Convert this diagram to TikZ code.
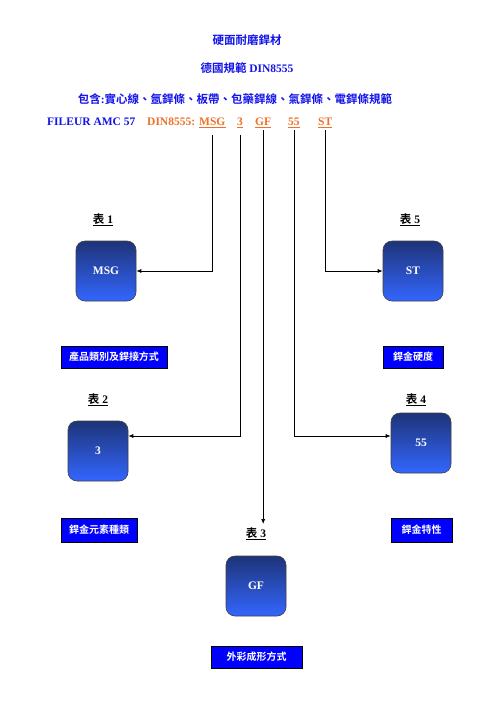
\documentclass[tikz,border=0pt]{standalone}
\usepackage{fontspec}
\setmainfont{Liberation Serif}
\newfontfamily\cjk{Noto Sans CJK TC}[BoldFont={Noto Sans CJK TC Bold}]
\usetikzlibrary{arrows.meta}
\definecolor{tblue}{RGB}{20,20,235}
\definecolor{torange}{RGB}{240,112,40}
\definecolor{gtop}{RGB}{30,52,120}
\definecolor{gbot}{RGB}{51,102,255}
\definecolor{lblue}{RGB}{0,0,255}
\newcommand\zh[1]{{\cjk\bfseries #1}}
\begin{document}
\begin{tikzpicture}[x=1pt,y=-1pt,
  txt/.style={inner sep=0pt, anchor=base, font=\fontsize{11.5}{13}\selectfont\bfseries},
  code/.style={txt, anchor=base west, text=torange},
  tbl/.style={txt, text=black},
  gbox/.style={draw=black!75, line width=0.6pt, rounded corners=9pt, minimum width=60pt, minimum height=60pt, top color=gtop, bottom color=gbot, text=white, font=\fontsize{11.5}{13}\selectfont\bfseries, inner sep=0pt},
  lbox/.style={draw=black, line width=0.9pt, fill=lblue, text=white, font=\fontsize{10}{12}\selectfont, inner sep=0pt},
  conn/.style={draw=black, line width=0.7pt, -{Latex[length=5pt,width=4pt]}},
  uline/.style={draw=torange, line width=0.8pt}]
\useasboundingbox (0,0) rectangle (496,702);
\fill[white] (0,0) rectangle (496,702);

\node[txt, text=tblue] (t1) at (247,44) {\zh{硬面耐磨銲材}};
\node[txt, text=tblue] (t2) at (247,72) {\zh{德國規範} DIN8555};
\node[txt, text=tblue] (t3) at (235,103) {\zh{包含}:\zh{實心線、氬銲條、板帶、包藥銲線、氣銲條、電銲條規範}};
\node[txt, anchor=base west, text=tblue] (fil) at (47,125) {FILEUR AMC 57};
\node[code] (din) at (147,125) {DIN8555:};
\node[code] (cmsg) at (199,125) {MSG};
\node[code] (c3) at (237,125) {3};
\node[code] (cgf) at (255,125) {GF};
\node[code] (c55) at (288,125) {55};
\node[code] (cst) at (318,125) {ST};
\foreach \n in {cmsg,c3,cgf,c55,cst}
  \draw[uline] ([yshift=-2.5pt]\n.base west) -- ([yshift=-2.5pt]\n.base east);

\node[tbl] (k1) at (103,223) {\underline{\zh{表} 1}};
\node[tbl] (k5) at (410,223) {\underline{\zh{表} 5}};
\node[tbl] (k2) at (98,403) {\underline{\zh{表} 2}};
\node[tbl] (k4) at (416,403) {\underline{\zh{表} 4}};
\node[tbl] (k3) at (256,537) {\underline{\zh{表} 3}};

\node[gbox] (b1) at (106,271) {MSG};
\node[gbox] (b5) at (413,271) {ST};
\node[gbox] (b2) at (98,451) {3};
\node[gbox] (b4) at (421,443) {55};
\node[gbox] (b3) at (256,586) {GF};

\node[lbox, minimum width=106pt, minimum height=22pt] (l1) at (114,357) {\zh{產品類別及銲接方式}};
\node[lbox, minimum width=60pt, minimum height=22pt] (l5) at (413,357) {\zh{銲金硬度}};
\node[lbox, minimum width=76pt, minimum height=24pt] (l2) at (99,530) {\zh{銲金元素種類}};
\node[lbox, minimum width=61pt, minimum height=24pt] (l4) at (421.5,530) {\zh{銲金特性}};
\node[lbox, minimum width=91pt, minimum height=22pt] (l3) at (256.5,657) {\zh{外彩成形方式}};

\draw[conn] ([yshift=-10pt]cmsg.base) |- (b1.east);
\draw[conn] ([yshift=-10pt]c3.base) |- ([yshift=15pt]b2.east);
\draw[conn] ([yshift=-5pt]cgf.base) -- ([yshift=3pt]cgf.base |- k3.north);
\draw[conn] ([yshift=-5pt]c55.base) |- ([yshift=7pt]b4.west);
\draw[conn] ([yshift=-5pt]cst.base) |- (b5.west);
\end{tikzpicture}
\end{document}
